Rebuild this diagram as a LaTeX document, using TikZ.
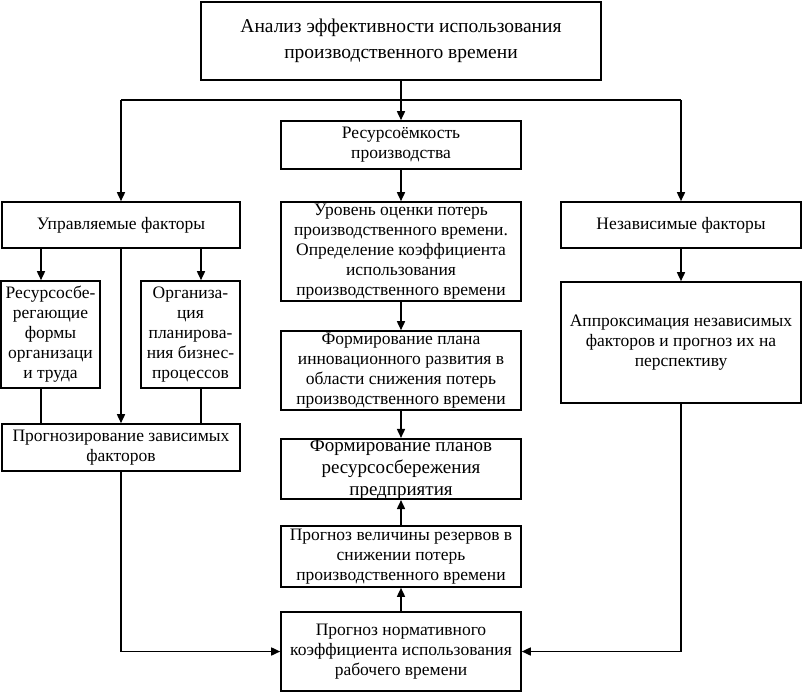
\documentclass[tikz,border=0pt]{standalone}
\usepackage{fontspec}
\setmainfont{Liberation Serif}
\usetikzlibrary{arrows.meta}
\begin{document}
\begin{tikzpicture}[x=1pt,y=-1pt,
  box/.style={draw,line width=1.6pt,align=center,inner sep=0pt,
    font=\fontsize{17.5}{20}\selectfont},
  arr/.style={line width=1.6pt,-{Triangle[length=9pt,width=8pt]}},
  ln/.style={line width=1.6pt}]
\useasboundingbox (0,0) rectangle (802,693);
\node[box,minimum width=400,minimum height=78,font=\fontsize{19.5}{26}\selectfont] (top) at (401,41) {Анализ эффективности использования\\производственного времени};
\node[box,minimum width=240,minimum height=48] (res) at (401,145) {Ресурсоёмкость\\производства};
\node[box,minimum width=238,minimum height=46] (upr) at (121,225) {Управляемые факторы};
\node[box,minimum width=240,minimum height=99] (uro) at (401,251.5) {Уровень оценки потерь\\производственного времени.\\Определение коэффициента\\использования\\производственного времени};
\node[box,minimum width=240,minimum height=46] (nez) at (681,225) {Независимые факторы};
\node[box,minimum width=99,minimum height=107] (rs) at (50.5,334.5) {Ресурсосбе-\\регающие\\формы\\организаци\\и труда};
\node[box,minimum width=99,minimum height=107] (org) at (190.5,334.5) {Организа-\\ция\\планирова-\\ния бизнес-\\процессов};
\node[box,minimum width=238,minimum height=47] (prz) at (121,447.5) {Прогнозирование зависимых\\факторов};
\node[box,minimum width=240,minimum height=79] (fpi) at (401,370.5) {Формирование плана\\инновационного развития в\\области снижения потерь\\производственного времени};
\node[box,minimum width=240,minimum height=60,font=\fontsize{19}{22}\selectfont] (fpr) at (401,469) {Формирование планов\\ресурсосбережения\\предприятия};
\node[box,minimum width=240,minimum height=61] (prv) at (401,556.5) {Прогноз величины резервов в\\снижении потерь\\производственного времени};
\node[box,minimum width=240,minimum height=79] (pnk) at (401,651.5) {Прогноз нормативного\\коэффициента использования\\рабочего времени};
\node[box,minimum width=240,minimum height=121] (apr) at (681,342.5) {Аппроксимация независимых\\факторов и прогноз их на\\перспективу};
\coordinate (j) at (401,100);
\draw[arr] (top.south) -- (res.north);
\draw[ln] (j -| upr.north) -- (j -| nez.north);
\draw[arr] (j -| upr.north) -- (upr.north);
\draw[arr] (j -| nez.north) -- (nez.north);
\draw[arr] (res.south) -- (uro.north);
\draw[arr] (41,0 |- upr.south) -- (41,0 |- rs.north);
\draw[arr] (201,0 |- upr.south) -- (201,0 |- org.north);
\draw[arr] (upr.south) -- (prz.north);
\draw[ln] (41,0 |- rs.south) -- (41,0 |- prz.north);
\draw[ln] (201,0 |- org.south) -- (201,0 |- prz.north);
\draw[arr] (prz.south) |- (pnk.west);
\draw[arr] (uro.south) -- (fpi.north);
\draw[arr] (fpi.south) -- (fpr.north);
\draw[arr] (prv.north) -- (fpr.south);
\draw[arr] (pnk.north) -- (prv.south);
\draw[arr] (nez.south) -- (apr.north);
\draw[arr] (apr.south) |- (pnk.east);
\end{tikzpicture}
\end{document}
